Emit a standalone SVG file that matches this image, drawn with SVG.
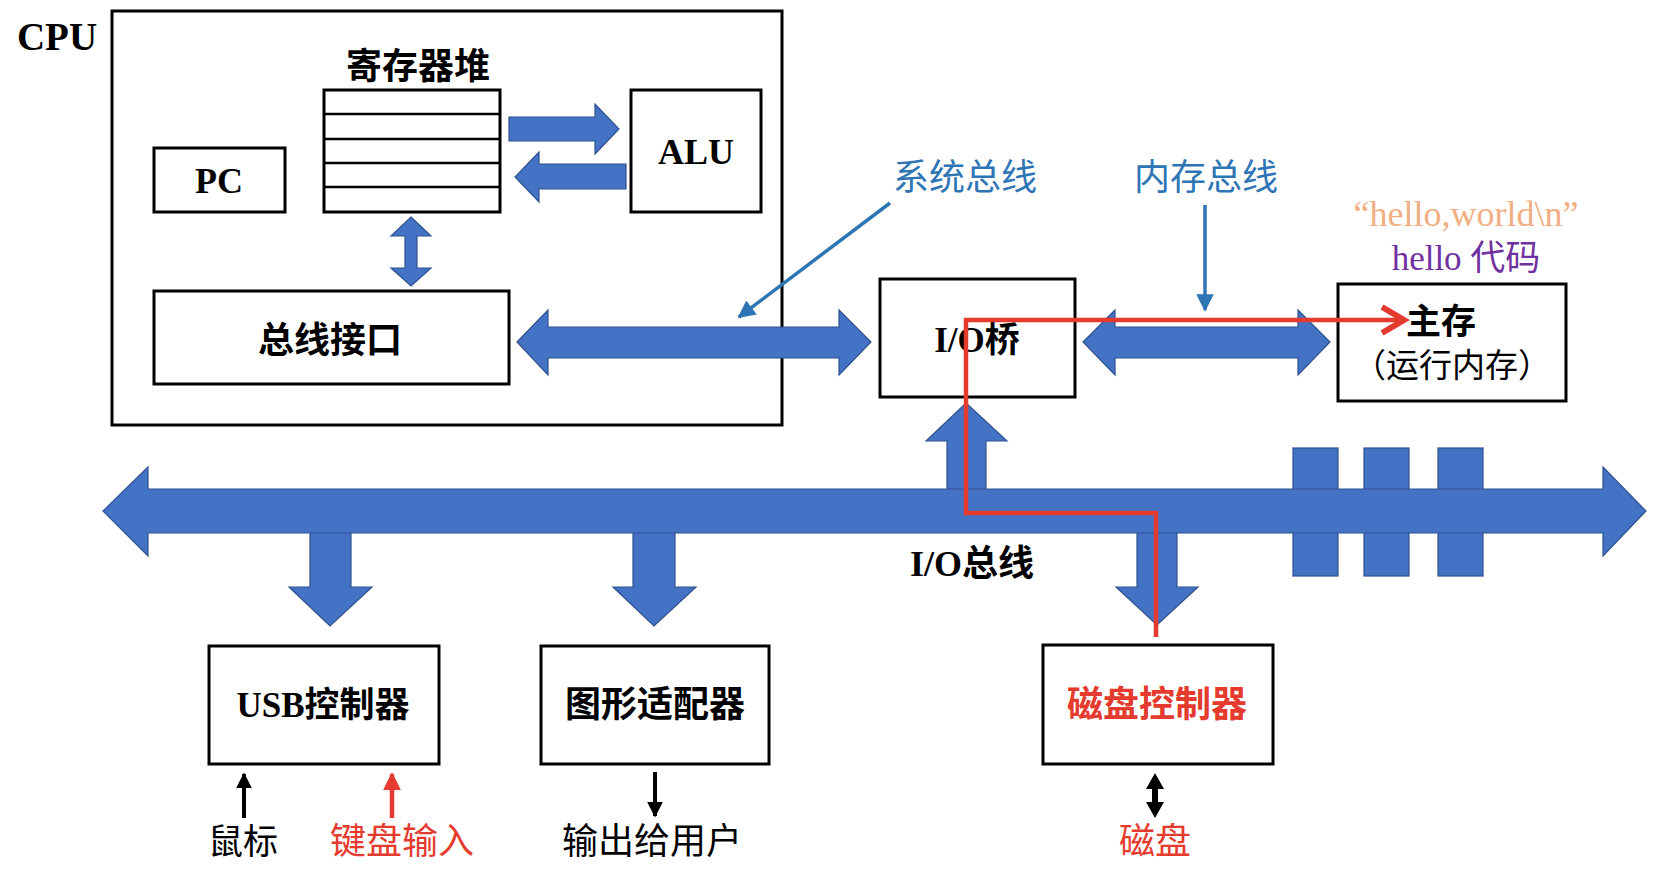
<svg xmlns="http://www.w3.org/2000/svg" width="1658" height="878" viewBox="0 0 1658 878">
<style>
.box{fill:#fff;stroke:#000;stroke-width:3}
.ln{stroke:#000;stroke-width:2.5}
.blu{fill:#4472C4;stroke:#2F528F;stroke-width:1.2}
.t{font-family:"Liberation Serif","Noto Sans CJK SC",serif;text-anchor:middle;fill:#000}
.b{font-weight:bold}
.red{fill:#E53A2E}
.bl{fill:#2E75B6}
</style>
<defs>
<marker id="bh" viewBox="0 0 10 10" refX="9" refY="5" markerWidth="5" markerHeight="5" orient="auto" markerUnits="strokeWidth">
<path d="M0,0 L10,5 L0,10 z" fill="#2E75B6"/>
</marker>
<marker id="kh" viewBox="0 0 10 10" refX="9" refY="5" markerWidth="4" markerHeight="4" orient="auto" markerUnits="strokeWidth">
<path d="M0,0 L10,5 L0,10 z" fill="#000"/>
</marker>
<marker id="rh" viewBox="0 0 10 10" refX="9" refY="5" markerWidth="4" markerHeight="4" orient="auto" markerUnits="strokeWidth">
<path d="M0,0 L10,5 L0,10 z" fill="#E53A2E"/>
</marker>
</defs>
<rect width="1658" height="878" fill="#fff"/>

<g id="cpu">
<rect class="box" x="112" y="11" width="670" height="414"/>
<text class="t b" x="57" y="50" font-size="39">CPU</text>
</g>
<g id="pc">
<rect class="box" x="154" y="148" width="131" height="64"/>
<text class="t b" x="219" y="193" font-size="36">PC</text>
</g>
<g id="regfile">
<text class="t b" x="418" y="79" font-size="36">寄存器堆</text>
<rect class="box" x="324" y="90" width="176" height="122"/>
<line class="ln" x1="324" y1="114" x2="500" y2="114"/>
<line class="ln" x1="324" y1="139" x2="500" y2="139"/>
<line class="ln" x1="324" y1="163" x2="500" y2="163"/>
<line class="ln" x1="324" y1="187" x2="500" y2="187" stroke-width="3.5"/>
</g>
<g id="alu">
<rect class="box" x="631" y="90" width="130" height="122"/>
<text class="t b" x="696" y="164" font-size="36">ALU</text>
</g>
<g id="businterface">
<rect class="box" x="154" y="291" width="355" height="93"/>
<text class="t b" x="330" y="353" font-size="36">总线接口</text>
</g>
<g id="iobridge">
<rect class="box" x="880" y="279" width="195" height="118"/>
<text class="t b" x="977" y="352" font-size="35">I/O桥</text>
</g>
<g id="mainmem">
<rect class="box" x="1338" y="284" width="228" height="117"/>
<text class="t b" x="1441" y="334" font-size="35">主存</text>
<text class="t" x="1452" y="377" font-size="33">（运行内存）</text>
<text class="t" x="1466" y="226" font-size="36" style="fill:#F1AE82">“hello,world\n”</text>
<text class="t" x="1466" y="270" font-size="35" style="fill:#7030A0">hello 代码</text>
</g>
<g id="usb">
<rect class="box" x="209" y="646" width="230" height="118"/>
<text class="t b" x="323" y="717" font-size="35">USB控制器</text>
<text class="t" x="243" y="854" font-size="35">鼠标</text>
<text class="t red" x="402" y="854" font-size="36">键盘输入</text>
</g>
<g id="graphics">
<rect class="box" x="541" y="646" width="228" height="118"/>
<text class="t b" x="655" y="717" font-size="36">图形适配器</text>
<text class="t" x="652" y="854" font-size="36">输出给用户</text>
</g>
<g id="diskctrl">
<rect class="box" x="1043" y="645" width="230" height="119"/>
<text class="t b red" x="1157" y="717" font-size="36">磁盘控制器</text>
<text class="t red" x="1155" y="854" font-size="36">磁盘</text>
</g>
<g id="labels">
<text class="t bl" x="965" y="190" font-size="36">系统总线</text>
<text class="t bl" x="1206" y="190" font-size="36">内存总线</text>
<text class="t b" x="972" y="576" font-size="36">I/O总线</text>
</g>

<g id="connectors">
<polygon class="blu" points="509,117 595,117 595,104 619,129 595,154 595,141 509,141"/>
<polygon class="blu" points="626,164 539,164 539,152 515,177 539,202 539,189 626,189"/>
<polygon class="blu" points="411,217 431,236 417,236 417,268 431,268 411,286 391,268 405,268 405,236 391,236"/>
<polygon class="blu" points="517,342 548,310 548,327 839,327 839,310 871,342 839,375 839,358 548,358 548,375"/>
<polygon class="blu" points="1083,342 1115,310 1115,327 1298,327 1298,310 1330,342 1298,375 1298,358 1115,358 1115,375"/>
<rect class="blu" x="1293" y="448" width="45" height="128"/>
<rect class="blu" x="1364" y="448" width="45" height="128"/>
<rect class="blu" x="1438" y="448" width="45" height="128"/>
<polygon class="blu" points="966,403 1007,441 986,441 986,490 947,490 947,441 926,441"/>
<polygon class="blu" points="310,532 351,532 351,587 372,587 330,626 289,587 310,587"/>
<polygon class="blu" points="633,532 675,532 675,587 696,587 654,626 613,587 633,587"/>
<polygon class="blu" points="1137,532 1177,532 1177,587 1198,587 1157,625 1116,587 1137,587"/>
<polygon class="blu" points="103,511 148,467 148,489 1603,489 1603,467 1646,511 1603,556 1603,533 148,533 148,556"/>
<line x1="890" y1="203" x2="739" y2="317" stroke="#2E75B6" stroke-width="3.5" marker-end="url(#bh)"/>
<line x1="1205" y1="205" x2="1205" y2="310" stroke="#2E75B6" stroke-width="3.5" marker-end="url(#bh)"/>
<line x1="244" y1="818" x2="244" y2="774" stroke="#000" stroke-width="4" marker-end="url(#kh)"/>
<line x1="392" y1="818" x2="392" y2="774" stroke="#E53A2E" stroke-width="4.5" marker-end="url(#rh)"/>
<line x1="655" y1="772" x2="655" y2="816" stroke="#000" stroke-width="4" marker-end="url(#kh)"/>
<polygon points="1155,773 1164,789 1158,789 1158,802 1164,802 1155,818 1146,802 1152,802 1152,789 1146,789" fill="#000"/>
<path d="M1156,637 V513 H966 V320 H1402" fill="none" stroke="#E53A2E" stroke-width="4.5"/>
<polyline points="1382,307 1404,320 1382,333" fill="none" stroke="#E53A2E" stroke-width="6" stroke-linejoin="miter"/>
</g>
</svg>
